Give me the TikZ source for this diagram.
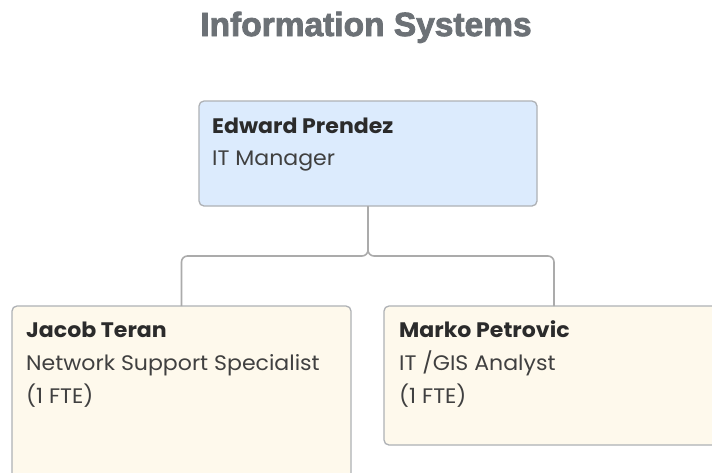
\documentclass[tikz,border=0pt]{standalone}
\usepackage{fontspec}
\setmainfont{Poppins}[FakeStretch=1.05]
\newfontfamily\titlefont{Liberation Sans}[BoldFeatures={FakeBold=2.5}]
\definecolor{linegray}{HTML}{ABABAB}
\definecolor{boxborder}{HTML}{AEB1B5}
\definecolor{bluefill}{HTML}{DCEBFD}
\definecolor{creamfill}{HTML}{FEF9EC}
\definecolor{titlegray}{HTML}{6C7176}
\definecolor{namecol}{HTML}{2B2B2B}
\definecolor{rolecol}{HTML}{404040}
\tikzset{
  box/.style={draw=boxborder, line width=1.3pt, rounded corners=5pt, inner sep=0pt, outer sep=0pt},
  topbox/.style={box, fill=bluefill},
  childbox/.style={box, fill=creamfill},
  nametext/.style={anchor=base west, inner sep=0pt, font=\fontsize{21}{24}\selectfont\bfseries, text=namecol},
  roletext/.style={anchor=base west, inner sep=0pt, font=\fontsize{21}{24}\selectfont, text=rolecol},
  conn/.style={draw=linegray, line width=1.6pt, rounded corners=6pt},
  titletext/.style={anchor=base, inner sep=0pt, font=\titlefont\fontsize{33.5}{38}\selectfont\bfseries, text=titlegray}
}
\begin{document}
\begin{tikzpicture}[x=1pt,y=-1pt]
\clip (0,0) rectangle (712,472);
\fill[white] (0,0) rectangle (712,472);
\node[titletext] (title) at (366,36) {Information Systems};
% boxes
\node[topbox, minimum width=338pt, minimum height=105pt] (ep) at (368,153.5) {};
\node[childbox, minimum width=339pt, minimum height=200pt] (jt) at (181.5,406) {};
\node[childbox, minimum width=340pt, minimum height=139pt] (mp) at (554,375.5) {};
% connectors
\coordinate (mid) at (368,256);
\draw[conn] (ep.south) -- (mid) -| (jt.north);
\draw[conn] (ep.south) -- (mid) -| (mp.north);
% texts
\node[nametext] (epn) at (212,133) {Edward Prendez};
\node[roletext] (epr) at (212,165) {IT Manager};
\node[nametext] (jtn) at (26,337) {Jacob Teran};
\node[roletext] (jtr) at (26,370) {Network Support Specialist};
\node[roletext] (jtf) at (26,403) {(1 FTE)};
\node[nametext] (mpn) at (399,337) {Marko Petrovic};
\node[roletext] (mpr) at (399,370) {IT /GIS Analyst};
\node[roletext] (mpf) at (399,403) {(1 FTE)};
\end{tikzpicture}
\end{document}
